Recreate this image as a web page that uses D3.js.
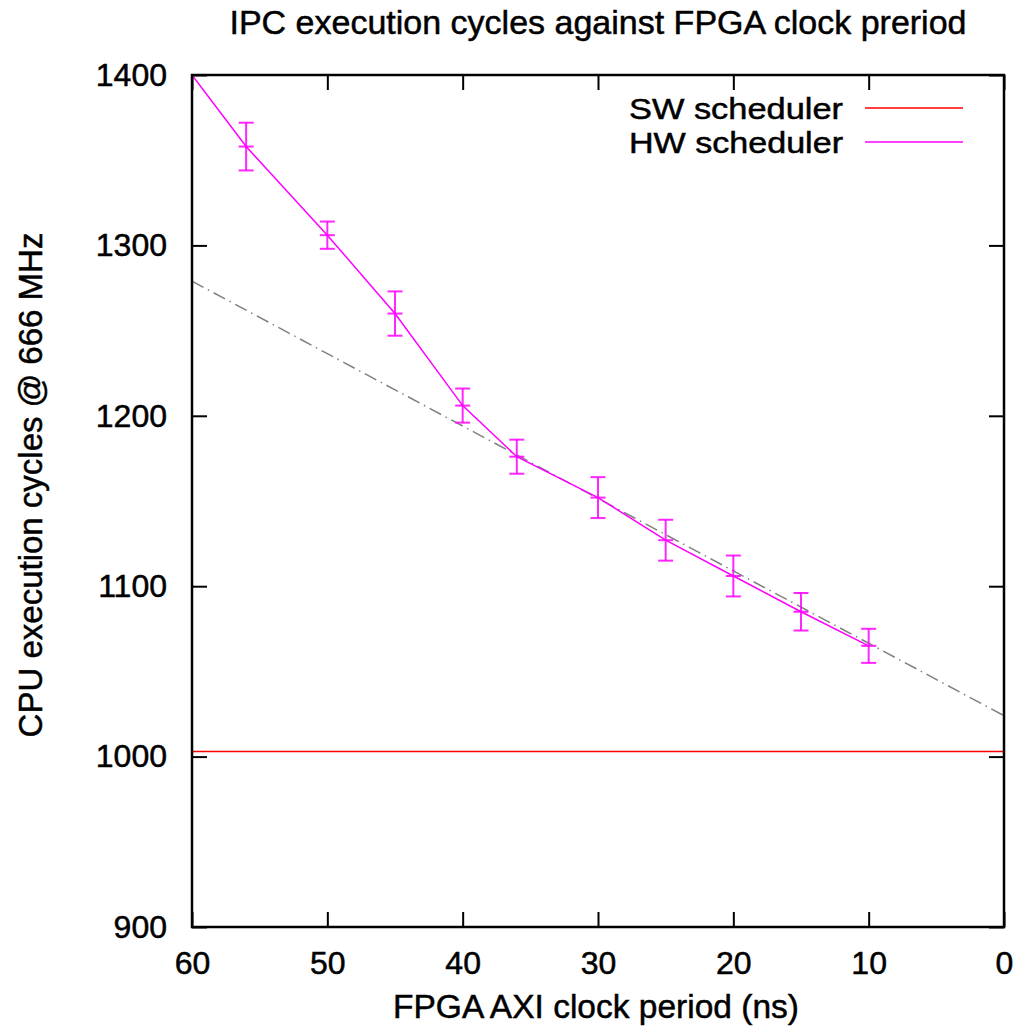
<!DOCTYPE html>
<html>
<head>
<meta charset="utf-8">
<script src="https://cdn.jsdelivr.net/npm/d3@7"></script>
<style>
  html, body { margin: 0; padding: 0; background: #fff; }
  svg { display: block; }
  text { font-family: "Liberation Sans", Arial, Helvetica, sans-serif; fill: #000; stroke: #000; stroke-width: 0.5px; }
</style>
</head>
<body>
<script>
// ---- data ----
const periods = [60, 56, 50, 45, 40, 36, 30, 25, 20, 15, 10];           // FPGA AXI clock period (ns)
const hwCycles = [1400, 1358, 1306, 1260, 1206, 1176, 1152, 1127, 1106, 1085, 1065];
const hwErr    = [0, 14, 8, 13, 10, 10, 12, 12, 12, 11, 10];
const swCycles = 1003;                                                  // SW scheduler (constant)
const fitX = [60, 0];                                                   // dash-dot trend line
const fitY = [1279, 1024];
const xTicks = [60, 50, 40, 30, 20, 10, 0];
const yTicks = [900, 1000, 1100, 1200, 1300, 1400];
const seriesNames = ["SW scheduler", "HW scheduler"];
const seriesColors = ["#ff0000", "#ff00ff"];

const W = 1021, H = 1033;
const L = 192, R = 1004, T = 75, B = 927;

const svg = d3.select("body").append("svg").attr("width", W).attr("height", H);

const x = d3.scaleLinear().domain([60, 0]).range([L, R]);
const y = d3.scaleLinear().domain([900, 1400]).range([B, T]);

svg.append("defs").append("clipPath").attr("id", "clip")
  .append("rect").attr("x", L).attr("y", T).attr("width", R - L).attr("height", B - T);

// ticks (mirrored on all sides)
const tickLen = 15;
const gAxes = svg.append("g");
gAxes.append("g").attr("transform", `translate(0,${B})`)
  .call(d3.axisBottom(x).tickValues(xTicks).tickSize(-tickLen).tickFormat(d3.format("d")).tickPadding(24))
  .call(g => g.select(".domain").remove());
gAxes.append("g").attr("transform", `translate(0,${T})`)
  .call(d3.axisTop(x).tickValues(xTicks).tickSize(-tickLen).tickFormat(""))
  .call(g => g.select(".domain").remove());
gAxes.append("g").attr("transform", `translate(${L},0)`)
  .call(d3.axisLeft(y).tickValues(yTicks).tickSize(-tickLen).tickFormat(d3.format("d")).tickPadding(25))
  .call(g => g.select(".domain").remove());
gAxes.append("g").attr("transform", `translate(${R},0)`)
  .call(d3.axisRight(y).tickValues(yTicks).tickSize(-tickLen).tickFormat(""))
  .call(g => g.select(".domain").remove());
gAxes.selectAll(".tick line").attr("stroke", "#000").attr("stroke-width", 2);
gAxes.selectAll(".tick text").attr("font-size", 32)
  .attr("font-family", '"Liberation Sans", Arial, sans-serif')
  .attr("fill", "#000").attr("stroke", "#000").attr("stroke-width", 0.5);

const plot = svg.append("g").attr("clip-path", "url(#clip)");

// SW scheduler constant line
plot.append("line")
  .attr("x1", x(60)).attr("x2", x(0))
  .attr("y1", y(swCycles)).attr("y2", y(swCycles))
  .attr("stroke", seriesColors[0]).attr("stroke-width", 1.6);

// dash-dot fit line
plot.append("path")
  .datum(fitX.map((d, i) => [d, fitY[i]]))
  .attr("d", d3.line().x(d => x(d[0])).y(d => y(d[1])))
  .attr("fill", "none").attr("stroke", "#808080").attr("stroke-width", 1.5)
  .attr("stroke-dasharray", "13,5,1.5,5");

// HW scheduler line
const hwData = periods.map((p, i) => ({ p, v: hwCycles[i], e: hwErr[i] }));
plot.append("path")
  .datum(hwData)
  .attr("d", d3.line().x(d => x(d.p)).y(d => y(d.v)))
  .attr("fill", "none").attr("stroke", seriesColors[1]).attr("stroke-width", 1.5);

// error bars + point markers
const cap = 7.5;
const eb = plot.append("g").attr("stroke", seriesColors[1]).attr("stroke-width", 2).attr("stroke-opacity", 0.85);
hwData.filter(d => d.e > 0).forEach(d => {
  const cx = x(d.p);
  eb.append("line").attr("x1", cx).attr("x2", cx).attr("y1", y(d.v - d.e)).attr("y2", y(d.v + d.e));
  eb.append("line").attr("x1", cx - cap).attr("x2", cx + cap).attr("y1", y(d.v - d.e)).attr("y2", y(d.v - d.e));
  eb.append("line").attr("x1", cx - cap).attr("x2", cx + cap).attr("y1", y(d.v + d.e)).attr("y2", y(d.v + d.e));
  eb.append("line").attr("x1", cx - cap).attr("x2", cx + cap).attr("y1", y(d.v)).attr("y2", y(d.v));
});

// frame
svg.append("rect").attr("x", L).attr("y", T).attr("width", R - L).attr("height", B - T)
  .attr("fill", "none").attr("stroke", "#000").attr("stroke-width", 2.5);

// legend
const legY = [108, 142];
seriesNames.forEach((name, i) => {
  svg.append("text").attr("x", 843).attr("y", legY[i] + 11).attr("text-anchor", "end")
    .attr("font-size", 29.5).attr("textLength", 214).attr("lengthAdjust", "spacingAndGlyphs")
    .text(name);
  svg.append("line").attr("x1", 865).attr("x2", 963).attr("y1", legY[i]).attr("y2", legY[i])
    .attr("stroke", seriesColors[i]).attr("stroke-width", 1.6);
});

// title & axis labels
svg.append("text").attr("x", 598).attr("y", 34).attr("text-anchor", "middle")
  .attr("font-size", 34).text("IPC execution cycles against FPGA clock preriod");
svg.append("text").attr("x", 596).attr("y", 1018).attr("text-anchor", "middle")
  .attr("font-size", 33.5).text("FPGA AXI clock period (ns)");
svg.append("text").attr("transform", "translate(42,485) rotate(-90)").attr("text-anchor", "middle")
  .attr("font-size", 33).text("CPU execution cycles @ 666 MHz");
</script>
</body>
</html>
